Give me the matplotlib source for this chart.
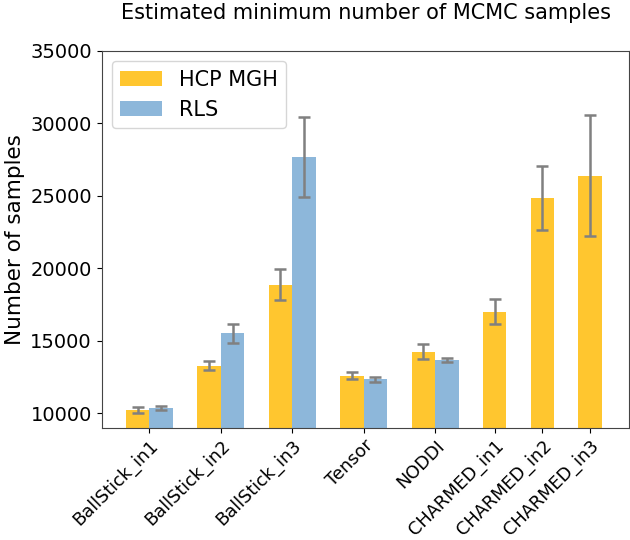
import numpy as np
import matplotlib
matplotlib.use("Agg")
import matplotlib.pyplot as plt

categories = ["BallStick_in1", "BallStick_in2", "BallStick_in3", "Tensor", "NODDI",
              "CHARMED_in1", "CHARMED_in2", "CHARMED_in3"]
hcp_mgh = [10230, 13280, 18870, 12570, 14250, 17000, 24840, 26390]
hcp_mgh_err = [190, 320, 1080, 240, 520, 860, 2230, 4150]
rls = [10360, 15500, 27670, 12330, 13650]
rls_err = [150, 640, 2730, 170, 150]

n_pair = len(rls)
width = 0.33
x_hcp = np.concatenate([np.arange(n_pair), n_pair + np.arange(len(categories) - n_pair) * 2 / 3])
x_rls = np.arange(n_pair) + width

fig = plt.figure(figsize=(6.3, 5.4), dpi=100)
ax = fig.add_axes([0.1614, 0.208, 0.8378, 0.698])

yellow = "#FFC62F"
blue = "#8DB7DA"
err_kw = dict(ecolor="#808080", elinewidth=1.8, capsize=4, capthick=1.8)
ax.bar(x_hcp, hcp_mgh, width, color=yellow, label="HCP MGH", yerr=hcp_mgh_err, error_kw=err_kw)
ax.bar(x_rls, rls, width, color=blue, label="RLS", yerr=rls_err, error_kw=err_kw)

ticks = np.concatenate([np.arange(n_pair) + width / 2, x_hcp[n_pair:]])
ax.set_xticks(ticks)
ax.set_xticklabels(categories, rotation=45, ha="right", rotation_mode="anchor", fontsize=12.8)
ax.tick_params(axis="x", pad=3)
ax.set_xlim(-0.504, 6.888)
ax.set_ylim(9000, 35000)
ax.set_yticks([10000, 15000, 20000, 25000, 30000, 35000])
ax.tick_params(axis="y", labelsize=14)
ax.set_ylabel("Number of samples", fontsize=15.5)
ax.set_title("Estimated minimum number of MCMC samples", fontsize=15, pad=23)
for s in ax.spines.values():
    s.set_color("#444444")
ax.legend(loc="upper left", fontsize=15)

fig.savefig("out.png", dpi=100)
